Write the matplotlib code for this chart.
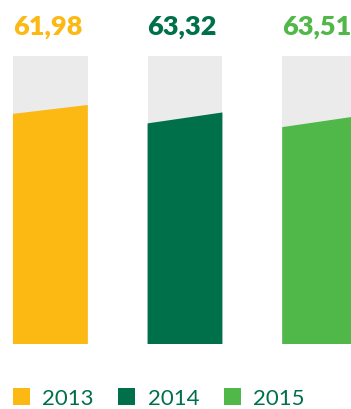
import matplotlib
matplotlib.use("Agg")
import matplotlib.pyplot as plt
from matplotlib.patches import Patch

years = ["2013", "2014", "2015"]
labels = ["61,98", "63,32", "63,51"]
fill_left = [79.9, 76.6, 75.3]   # % of column height at bar's left edge
fill_right = [83.0, 80.4, 79.1]  # % at right edge
colors = ["#FDB913", "#00704A", "#50B848"]
gray = "#EBEBEB"

W, H = 351, 410
fig = plt.figure(figsize=(W / 100, H / 100), dpi=100)
ax = fig.add_axes([0, 65 / H, 1, 288 / H])
ax.set_xlim(-0.374, 2.233)
ax.set_ylim(0, 100)
ax.axis("off")

width = 0.556
for i in range(len(years)):
    x0, x1 = i - width / 2, i + width / 2
    ax.bar(i, 100, width=width, color=gray, linewidth=0)
    ax.fill([x0, x1, x1, x0], [0, 0, fill_right[i], fill_left[i]],
            color=colors[i], linewidth=0)
    ax.text(x0, 107.6, labels[i], color=colors[i], fontsize=19.5,
            fontweight="heavy", family=["Lato", "DejaVu Sans"],
            ha="left", va="baseline", clip_on=False)

handles = [Patch(facecolor=c, edgecolor="none") for c in colors]
leg = fig.legend(handles, years, loc="lower left",
                 bbox_to_anchor=(13 / W, 0.5 / H), ncol=3, frameon=False,
                 prop={"family": ["Lato", "DejaVu Sans"], "size": 16},
                 handlelength=0.77, handleheight=0.77, handletextpad=0.55,
                 columnspacing=1.1, borderpad=0, borderaxespad=0.0)
for t in leg.get_texts():
    t.set_color("#00704A")

fig.savefig("out.png", dpi=100)
